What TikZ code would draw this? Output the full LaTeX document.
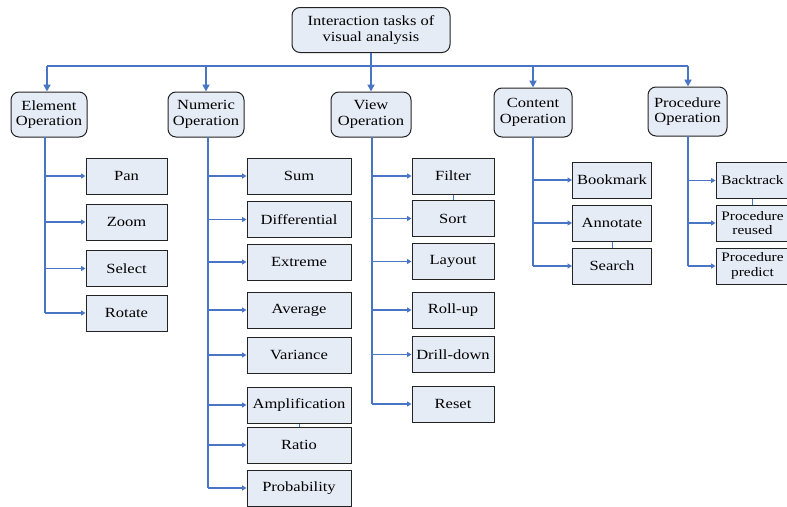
\documentclass[tikz,border=0pt]{standalone}
\usepackage{fontspec}
\setmainfont{Liberation Serif}[FakeStretch=1.18]
\usetikzlibrary{arrows.meta}
\definecolor{lnblue}{RGB}{72,118,196}
\definecolor{boxfill}{RGB}{230,236,246}
\definecolor{boxline}{RGB}{35,35,35}
\begin{document}
\begin{tikzpicture}[x=1pt,y=-1pt,
 base/.style={draw=boxline, fill=boxfill, line width=1pt, align=center, inner sep=0pt, font=\fontsize{14}{15.5}\selectfont},
 topbox/.style={base, rounded corners=8pt},
 leaf/.style={base, minimum height=36pt},
 conn/.style={draw=lnblue, line width=1.8pt},
 leafarr/.style={conn, -{Triangle[length=4.5pt,width=5pt]}},
 busarr/.style={conn, -{Triangle[length=7pt,width=7pt]}},
 tie/.style={draw=lnblue, line width=0.8pt}]
\useasboundingbox (0,0) rectangle (787,506);
\clip (0,0) rectangle (787,506);
\fill[white] (0,0) rectangle (787,506);

% root
\node[topbox, minimum width=158pt, minimum height=45pt] (root) at (371,30) {Interaction tasks of\\visual analysis};

% level 1
\node[topbox, minimum width=76pt, minimum height=45pt] (el) at (49,114.5) {Element\\Operation};
\node[topbox, minimum width=76pt, minimum height=45pt] (nu) at (206,114.5) {Numeric\\Operation};
\node[topbox, minimum width=80pt, minimum height=45pt] (vi) at (371,114.5) {View\\Operation};
\node[topbox, minimum width=78pt, minimum height=49pt] (co) at (533,112.5) {Content\\Operation};
\node[topbox, minimum width=79pt, minimum height=49pt] (pr) at (687.5,111.5) {Procedure\\Operation};

% bus
\coordinate (bus) at (371,66);
\draw[conn] (root.south) -- (bus);
\draw[conn] ([xshift=-2pt]el.north |- bus) -- ([xshift=0.5pt]pr.north |- bus);
\draw[busarr] ([xshift=-2pt]el.north |- bus) -- ([xshift=-2pt]el.north);
\draw[busarr] (nu.north |- bus) -- (nu.north);
\draw[busarr] (vi.north |- bus) -- (vi.north);
\draw[busarr] (co.north |- bus) -- (co.north);
\draw[busarr] ([xshift=0.5pt]pr.north |- bus) -- ([xshift=0.5pt]pr.north);

% element leaves
\node[leaf, minimum width=81pt] (pan) at (126.5,176) {Pan};
\node[leaf, minimum width=81pt] (zoom) at (126.5,222) {Zoom};
\node[leaf, minimum width=81pt] (sel) at (126.5,268.5) {Select};
\node[leaf, minimum width=81pt] (rot) at (126.5,313) {Rotate};

% numeric leaves
\node[leaf, minimum width=104pt] (sum) at (299,176) {Sum};
\node[leaf, minimum width=104pt] (dif) at (299,219.5) {Differential};
\node[leaf, minimum width=104pt] (ext) at (299,262) {Extreme};
\node[leaf, minimum width=104pt] (avg) at (299,310) {Average};
\node[leaf, minimum width=104pt] (var) at (299,355) {Variance};
\node[leaf, minimum width=104pt] (amp) at (299,405) {Amplification};
\node[leaf, minimum width=104pt] (rat) at (299,445) {Ratio};
\node[leaf, minimum width=104pt] (prob) at (299,488) {Probability};

% view leaves
\node[leaf, minimum width=82pt] (fil) at (453,176) {Filter};
\node[leaf, minimum width=82pt] (sor) at (453,218.5) {Sort};
\node[leaf, minimum width=82pt] (lay) at (453,261.5) {Layout};
\node[leaf, minimum width=82pt] (rol) at (453,310) {Roll-up};
\node[leaf, minimum width=82pt] (dri) at (453,354.5) {Drill-down};
\node[leaf, minimum width=82pt] (res) at (453,404) {Reset};

% content leaves
\node[leaf, minimum width=79pt] (boo) at (612,180) {Bookmark};
\node[leaf, minimum width=79pt] (ann) at (612,223) {Annotate};
\node[leaf, minimum width=79pt] (sea) at (612,266) {Search};

% procedure leaves (right edge at the picture's border)
\tikzset{pleaf/.style={leaf, minimum width=73pt, font=\fontsize{13}{14.5}\selectfont}}
\node[pleaf] (bac) at (752.5,180.5) {Backtrack};
\node[pleaf] (reu) at (752.5,223) {Procedure\\reused};
\node[pleaf] (pre) at (752.5,266) {Procedure\\predict};

% small ties between stacked boxes
\draw[tie] (fil.south) -- (sor.north);
\draw[tie] (amp.south) -- (rat.north);
\draw[tie] (ann.south) -- (sea.north);
\draw[tie] (bac.south) -- (reu.north);

% trunks
\coordinate (elt) at (45,137);
\coordinate (nut) at (208,137);
\coordinate (vit) at (372,137);
\coordinate (cot) at (533,137);
\coordinate (prt) at (688,136);
\draw[conn] (elt) -- (elt |- rot.west);
\draw[conn] (nut) -- (nut |- prob.west);
\draw[conn] (vit) -- (vit |- res.west);
\draw[conn] (cot) -- (cot |- sea.west);
\draw[conn] (prt) -- (prt |- pre.west);

\foreach \n in {pan,zoom,sel,rot} \draw[leafarr] (elt |- \n.west) -- (\n.west);
\foreach \n in {sum,dif,ext,avg,var,amp,rat,prob} \draw[leafarr] (nut |- \n.west) -- (\n.west);
\foreach \n in {fil,sor,lay,rol,dri,res} \draw[leafarr] (vit |- \n.west) -- (\n.west);
\foreach \n in {boo,ann,sea} \draw[leafarr] (cot |- \n.west) -- (\n.west);
\foreach \n in {bac,reu,pre} \draw[leafarr] (prt |- \n.west) -- (\n.west);
\end{tikzpicture}
\end{document}
